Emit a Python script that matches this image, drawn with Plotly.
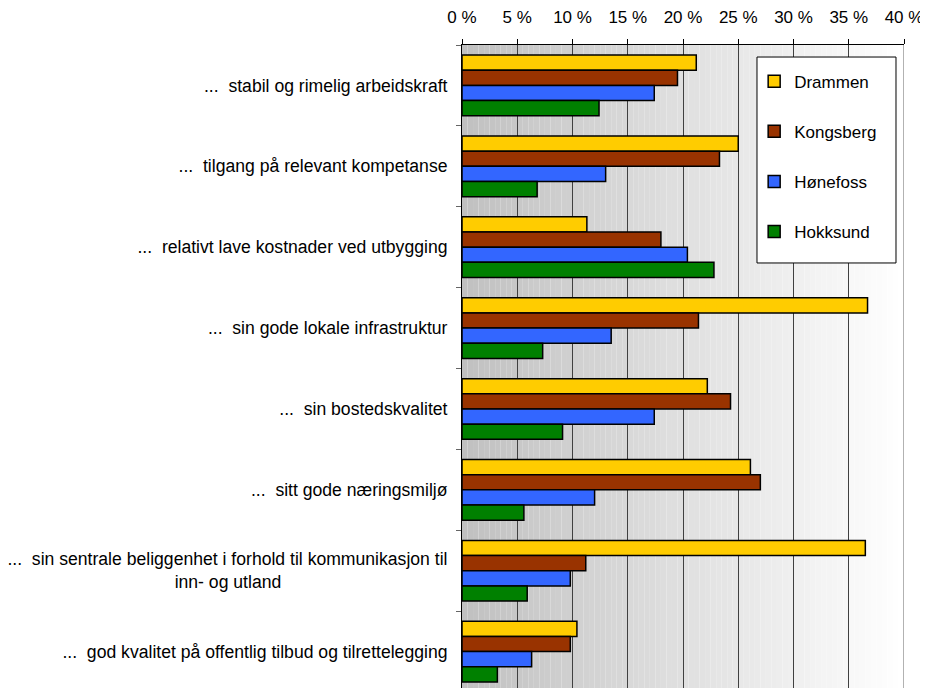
import plotly.graph_objects as go

categories = [
    "...\u00a0 stabil og rimelig arbeidskraft",
    "...\u00a0 tilgang på relevant kompetanse",
    "...\u00a0 relativt lave kostnader ved utbygging",
    "...\u00a0 sin gode lokale infrastruktur",
    "...\u00a0 sin bostedskvalitet",
    "...\u00a0 sitt gode næringsmiljø",
    "...\u00a0 sin sentrale beliggenhet i forhold til kommunikasjon til<br>inn- og utland" + "\u00a0" * 34,
    "...\u00a0 god kvalitet på offentlig tilbud og tilrettelegging",
]
series_names = ["Drammen", "Kongsberg", "Hønefoss", "Hokksund"]
drammen = [21.2, 25.0, 11.3, 36.7, 22.2, 26.1, 36.5, 10.4]
kongsberg = [19.5, 23.3, 18.0, 21.4, 24.3, 27.0, 11.2, 9.8]
honefoss = [17.4, 13.0, 20.4, 13.5, 17.4, 12.0, 9.8, 6.3]
hokksund = [12.4, 6.8, 22.8, 7.3, 9.1, 5.6, 5.9, 3.2]
x_tickvals = [0, 5, 10, 15, 20, 25, 30, 35, 40]
x_ticktext = ["0 %", "5 %", "10 %", "15 %", "20 %", "25 %", "30 %", "35 %", "40 %"]

colors = ["#FFCC00", "#993300", "#3366FF", "#008000"]
values = [drammen, kongsberg, honefoss, hokksund]

fig = go.Figure()
for name, vals, col in zip(series_names, values, colors):
    fig.add_trace(go.Bar(
        y=categories, x=vals, name=name, orientation="h",
        legendgroup=name,
        marker=dict(color=col, line=dict(color="#000000", width=1.5)),
    ))

# gradient background
shapes = []
n = 80
for i in range(n):
    x0 = 40 * i / n
    x1 = 40 * (i + 1) / n
    g = int(round(192 + (255 - 192) * (i + 0.5) / n))
    shapes.append(dict(type="rect", xref="x", yref="paper", x0=x0, x1=x1, y0=0, y1=1,
                       fillcolor=f"rgb({g},{g},{g})", line=dict(width=0), layer="below"))
# right border line
shapes.append(dict(type="line", xref="x", yref="paper", x0=40, x1=40, y0=0, y1=1,
                   line=dict(color="#999999", width=1.5), layer="above"))
# legend box
shapes.append(dict(type="rect", xref="paper", yref="paper", x0=0.6674, x1=0.9819,
                   y0=0.661, y1=0.9813, fillcolor="white",
                   line=dict(color="#000000", width=1), layer="above"))

fig.update_layout(
    width=920, height=680,
    margin=dict(l=454, r=24, t=37, b=0),
    paper_bgcolor="white", plot_bgcolor="white",
    font=dict(family="Liberation Sans, Arial, sans-serif", size=17, color="#000000"),
    barmode="group", bargap=0.25, bargroupgap=0,
    shapes=shapes,
    showlegend=True,
    legend=dict(
        x=0.661, y=0.971, xanchor="left", yanchor="top",
        bgcolor="rgba(0,0,0,0)", borderwidth=0,
        traceorder="grouped", tracegroupgap=25,
        font=dict(size=17),
    ),
    xaxis=dict(
        side="top", range=[0, 40], tickvals=x_tickvals, ticktext=x_ticktext,
        showgrid=True, gridcolor="#404040", gridwidth=1,
        showline=True, linecolor="#000000", linewidth=1, mirror=False,
        ticks="outside", ticklen=5, tickcolor="#000000",
        ticklabelstandoff=9, zeroline=False, fixedrange=True,
    ),
    yaxis=dict(
        range=[7.45, -0.5], type="category",
        showline=True, linecolor="#000000", linewidth=1,
        ticks="outside", ticklen=5, tickcolor="#666666", tickson="boundaries",
        showgrid=False, zeroline=False, ticklabelstandoff=10,
        tickfont=dict(size=17.6),
    ),
)

fig.write_html("out.html")
